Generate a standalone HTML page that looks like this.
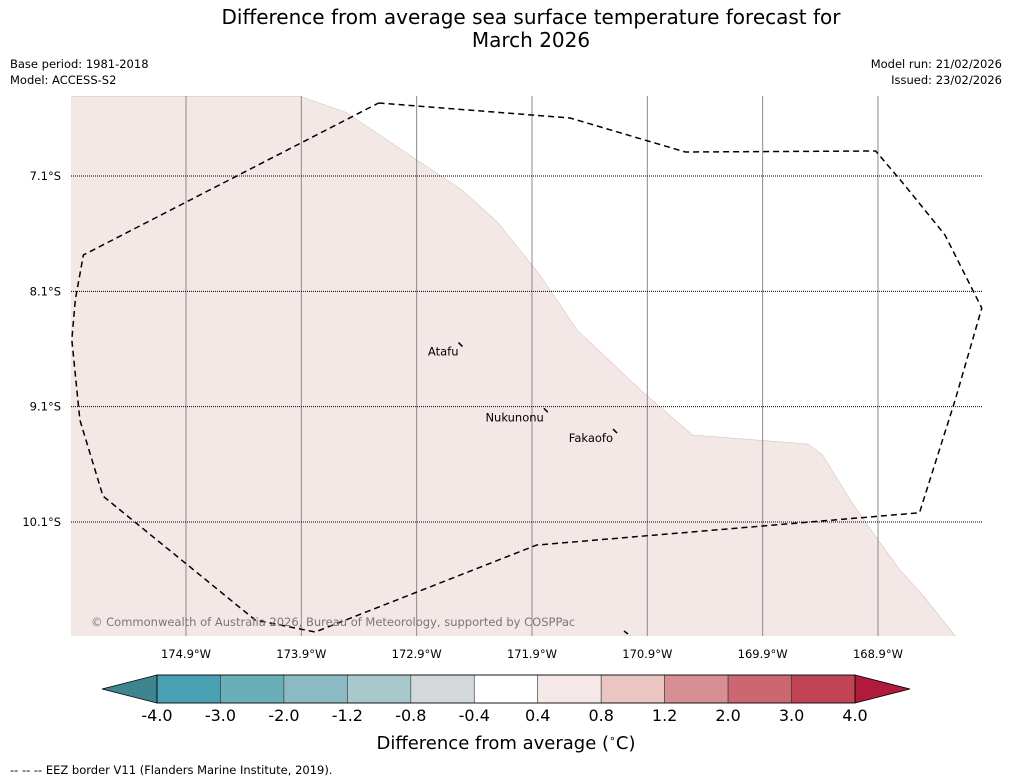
<!DOCTYPE html>
<html><head><meta charset="utf-8"><style>
body{margin:0;background:#fff;font-family:"DejaVu Sans","Liberation Sans",sans-serif;}
svg{display:block}
</style></head><body>
<svg width="1011" height="781" viewBox="0 0 1011 781">
<text x="531" y="24" text-anchor="middle" font-size="20">Difference from average sea surface temperature forecast for</text>
<text x="531" y="47" text-anchor="middle" font-size="20">March 2026</text>
<text x="10" y="68" font-size="11.5">Base period: 1981-2018</text>
<text x="10" y="84" font-size="11.5">Model: ACCESS-S2</text>
<text x="1002" y="68" font-size="11.5" text-anchor="end">Model run: 21/02/2026</text>
<text x="1002" y="84" font-size="11.5" text-anchor="end">Issued: 23/02/2026</text>
<g id="map"></g>
<g id="cbar"></g>
<text x="506" y="749" text-anchor="middle" font-size="18">Difference from average (<tspan font-size="11" dy="-7">∘</tspan><tspan dy="7">C)</tspan></text>
<text x="10" y="774" font-size="11.5">--  --  -- EEZ border V11 (Flanders Marine Institute, 2019).</text>
</svg>
<script>
const lonTicks=[174.9,173.9,172.9,171.9,170.9,169.9,168.9];
const latTicks=[7.1,8.1,9.1,10.1];
const anomalyLon=[175.90,173.91,173.52,172.96,172.51,172.20,171.83,171.51,170.96,170.51,169.51,169.38,169.14,168.90,168.71,168.49,168.23,175.90];
const anomalyLat=[6.41,6.41,6.545,6.92,7.22,7.50,7.96,8.435,8.955,9.346,9.424,9.52,9.91,10.256,10.516,10.76,11.09,11.09];
const eezLon=[173.23,171.57,170.57,168.92,168.67,168.32,168.00,168.23,168.54,171.86,173.78,174.30,175.62,175.82,175.89,175.86,175.79,173.23];
const eezLat=[6.467,6.597,6.892,6.883,7.178,7.61,8.245,9.04,10.02,10.30,11.054,10.95,9.875,9.216,8.52,8.175,7.785,6.467];
const islands=["Atafu","Nukunonu","Fakaofo"];
const islandLon=[172.52,171.78,171.18];
const islandLat=[8.57,9.14,9.32];
const cbarLabels=["-4.0","-3.0","-2.0","-1.2","-0.8","-0.4","0.4","0.8","1.2","2.0","3.0","4.0"];
const cbarColors=["#48a1b2","#6aaeba","#8bbac4","#a9c8cc","#d3d8da","#ffffff","#f6e8e7","#e9c6c2","#d88f94","#cc6670","#c04455"];
const NS="http://www.w3.org/2000/svg";
const K=115.33;
const X=lon=>186+(174.9-lon)*K;
const Y=lat=>176+(lat-7.1)*K;
function mk(tag,attrs,parent){const e=document.createElementNS(NS,tag);for(const k in attrs)e.setAttribute(k,attrs[k]);parent.appendChild(e);return e;}
const map=document.getElementById('map');
const defs=mk('defs',{},map);
const cp=mk('clipPath',{id:'clip'},defs);
mk('rect',{x:71,y:96,width:911,height:540},cp);
const g=mk('g',{'clip-path':'url(#clip)'},map);
const poly=mk('polygon',{points:anomalyLon.map((l,i)=>X(l)+','+Y(anomalyLat[i])).join(' '),fill:'#f4e8e7',stroke:'#d9c3c1','stroke-width':0.6},g);


lonTicks.forEach(l=>{
 const ln=mk('line',{x1:X(l),x2:X(l),y1:96,y2:636,stroke:'#8a8a8a','stroke-width':1},g);
 
 
 const t=mk('text',{x:X(l),y:658,'text-anchor':'middle','font-size':11.5},map);t.textContent=l.toFixed(1)+'°W';
 
 
});
latTicks.forEach(l=>{
 const ln=mk('line',{x1:71,x2:982,y1:Y(l),y2:Y(l),stroke:'#000','stroke-width':1,'stroke-dasharray':'1 1'},g);
 
 
 const t=mk('text',{x:61,y:Y(l)+4,'text-anchor':'end','font-size':11.5},map);t.textContent=l.toFixed(1)+'°S';
 
 
});
const eez=mk('polyline',{points:eezLon.map((l,i)=>X(l)+','+Y(eezLat[i])).join(' '),fill:'none',stroke:'#000','stroke-width':1.5,'stroke-dasharray':'6 4'},map);


islands.forEach((n,i)=>{
 const x=X(islandLon[i]),y=Y(islandLat[i]);
 const m=mk('path',{d:`M${x-2},${y-3} L${x+2},${y+1}`,stroke:'#000','stroke-width':1.5},map);
 
 
 const t=mk('text',{x:x-2,y:y+10,'text-anchor':'end','font-size':11.5},map);t.textContent=n;
 
 
});
const sm=mk('path',{d:'M624,631 L628,634',stroke:'#000','stroke-width':1.5},map);


const cr=mk('text',{x:91,y:626,'font-size':11.5,fill:'#777'},map);cr.textContent='© Commonwealth of Australia 2026, Bureau of Meteorology, supported by COSPPac';


const cb=document.getElementById('cbar');
const x0=157,x1=855,y0=675,y1=703,w=(x1-x0)/cbarColors.length;
const la=mk('polygon',{points:`${x0},${y0} ${x0},${y1} 102,689`,fill:'#3f8590',stroke:'#000','stroke-width':0.8},cb);


const ra=mk('polygon',{points:`${x1},${y0} ${x1},${y1} 910,689`,fill:'#b11b3b',stroke:'#000','stroke-width':0.8},cb);


cbarColors.forEach((c,i)=>{
 const r=mk('rect',{x:x0+i*w,y:y0,width:w,height:y1-y0,fill:c,stroke:'#333','stroke-width':0.6},cb);
 
 
});
mk('rect',{x:x0,y:y0,width:x1-x0,height:y1-y0,fill:'none',stroke:'#000','stroke-width':0.8},cb);
cbarLabels.forEach((s,i)=>{
 const t=mk('text',{x:x0+i*w,y:721,'text-anchor':'middle','font-size':16},cb);t.textContent=s;
 
 
});
</script>
</body></html>
